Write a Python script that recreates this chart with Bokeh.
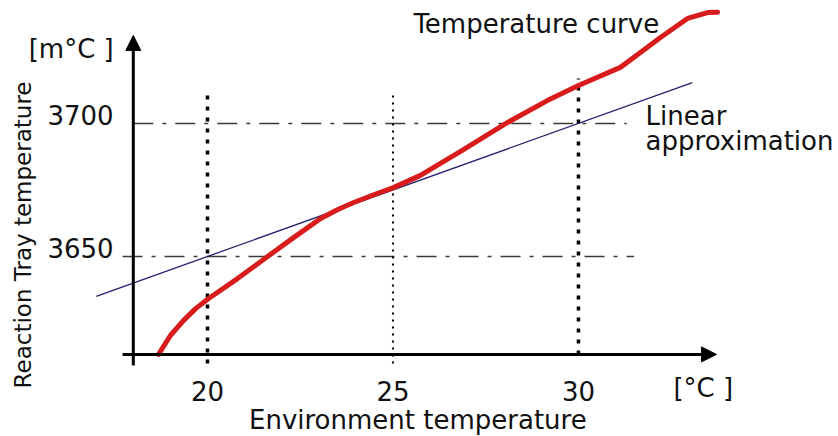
from math import pi

from bokeh.core.properties import value
from bokeh.embed import file_html
from bokeh.models import Arrow, ColumnDataSource, Label, NormalHead, Range1d
from bokeh.plotting import figure
from bokeh.resources import INLINE

# ---------------- data ----------------
# measured temperature curve (environment °C -> reaction tray m°C)
curve_x = [18.68, 19.00, 19.35, 19.68, 20.03, 20.81, 21.62, 22.32, 23.05, 23.50, 23.94, 24.50, 25.01,
           25.74, 26.90, 28.09, 29.16, 30.00, 31.13, 31.67, 32.21, 32.94, 33.48, 33.75]
curve_y = [3613.2, 3620.3, 3625.9, 3630.4, 3634.2, 3641.7, 3650.0, 3657.1, 3664.3, 3667.6, 3670.3, 3673.3,
           3675.9, 3680.5, 3690.2, 3700.4, 3708.6, 3714.3, 3721.1, 3726.7, 3732.3, 3739.5, 3741.7, 3741.8]

# linear approximation (end points)
linear_x = [17.0, 33.07]
linear_y = [3635.0, 3715.4]

# tick values / labels
x_ticks = [20, 25, 30]
x_tick_labels = ["20", "25", "30"]
y_ticks = [3650, 3700]
y_tick_labels = ["3650", "3700"]

# reference guide lines
v_guide_x = [20, 25, 30]
v_guide_top = [3712.4, 3711.7, 3716.9]
v_guide_bottom = [3609.8, 3609.8, 3613.2]
h_guide_y = [3650, 3700]
h_guide_left = [17.71, 18.0]
h_guide_right = [31.5, 31.3]

# axis geometry (data units)
X_AXIS_Y = 3613.2
X_AXIS_START = 17.71
X_AXIS_END = 33.72
Y_AXIS_X = 18.0
Y_AXIS_START = 3609.0
Y_AXIS_END = 3733.1

FONT = "DejaVu Sans"
TXT = "#111111"

p = figure(width=838, height=436, x_range=Range1d(14.42, 37.01), y_range=Range1d(3582.33, 3746.24),
           output_backend="svg", toolbar_location=None, x_axis_type=None, y_axis_type=None,
           title=None, min_border=0, outline_line_color=None)
p.background_fill_color = "white"
p.border_fill_color = "white"

# horizontal dash-dot guides
for yv, x0, x1 in zip(h_guide_y, h_guide_left, h_guide_right):
    p.line([x0, x1], [yv, yv], line_color="#3a3a3a", line_width=1.7, line_dash="20 9 4 9")

# vertical dotted guides
v_styles = [(3.5, "4 7"), (2.0, "2 5"), (3.5, "4 7")]
for xv, top, bot, (lw, dash) in zip(v_guide_x, v_guide_top, v_guide_bottom, v_styles):
    p.line([xv, xv], [bot, top], line_color="black", line_width=lw, line_dash=dash)

# linear approximation
p.line(linear_x, linear_y, line_color="#22226e", line_width=1.3)

# temperature curve
p.line(curve_x, curve_y, line_color="#d81c1c", line_width=5, line_join="round", line_cap="round")

# axes as arrows
p.add_layout(Arrow(end=NormalHead(size=15, fill_color="black", line_color="black"),
                   x_start=X_AXIS_START, y_start=X_AXIS_Y, x_end=X_AXIS_END, y_end=X_AXIS_Y,
                   line_width=3, line_color="black"))
p.add_layout(Arrow(end=NormalHead(size=15, fill_color="black", line_color="black"),
                   x_start=Y_AXIS_X, y_start=Y_AXIS_START, x_end=Y_AXIS_X, y_end=Y_AXIS_END,
                   line_width=3, line_color="black"))

# tick labels
xsrc = ColumnDataSource(dict(x=x_ticks, y=[3599.6] * len(x_ticks), t=x_tick_labels))
p.text(x="x", y="y", text="t", source=xsrc, text_align="center", text_baseline="middle",
       text_font=value(FONT), text_font_size="26px", text_color=TXT)
ysrc = ColumnDataSource(dict(x=[17.47] * len(y_ticks), y=[v + 3.2 for v in y_ticks], t=y_tick_labels))
p.text(x="x", y="y", text="t", source=ysrc, text_align="right", text_baseline="middle",
       text_font=value(FONT), text_font_size="26px", text_color=TXT)


def lab(x, y, text, size="26px", **kw):
    p.add_layout(Label(x=x, y=y, text=text, text_font=FONT, text_font_size=size,
                       text_color=TXT, text_baseline="middle", **kw))


lab(25.55, 3737.4, "Temperature curve")
lab(31.81, 3702.8, "Linear")
lab(31.81, 3693.4, "approximation")
lab(15.18, 3728.0, "[m°C ]")
lab(32.56, 3600.6, "[°C ]")
lab(25.67, 3588.7, "Environment temperature", text_align="center")
lab(15.04, 3658.1, "Reaction Tray temperature", size="23px", angle=pi / 2, text_align="center")

open("out.html", "w").write(file_html(p, INLINE))
